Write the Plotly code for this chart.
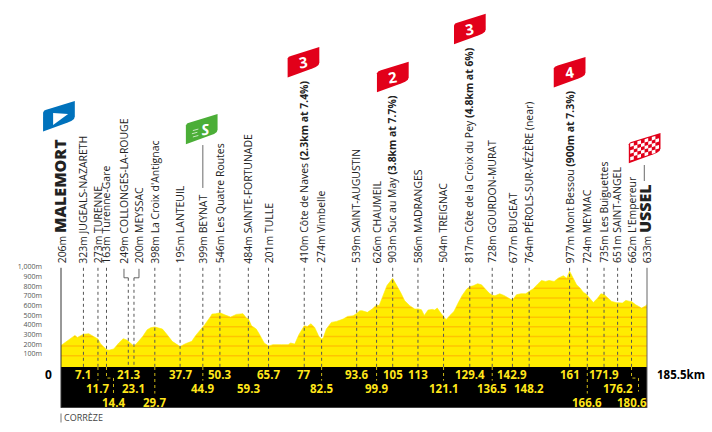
import plotly.graph_objects as go

# Elevation profile of the stage: distance (km) and altitude (m)
profile_km = [0, 1.4, 3.0, 4.4, 5.2, 6.5, 7.1, 8.8, 9.7, 11.7, 12.5, 14.4, 15.2, 16.7, 18.3, 19.7, 20.8, 21.3, 23.1,
              24.1, 25.9, 27.3, 28.4, 29.7, 32.1, 33.6, 35.2, 37.7, 39.4, 41.4, 42.6, 44.9, 45.5, 47.4, 47.8, 48.9,
              50.3, 51.8, 53.7, 55.5, 57.6, 58.7, 59.3, 60.3, 61.8, 62.9, 64.3, 65.7, 67.1, 69.8, 71.9, 72.7, 74.0,
              75.3, 77, 78, 79.1, 80.3, 81.6, 82.5, 83, 84, 85.6, 87.2, 89.3, 90.7, 92.5, 93.6, 94.6, 95.3, 97, 98.5,
              99.9, 100.7, 102, 103.2, 105, 106.2, 107.6, 108.8, 110.4, 112, 113, 114.1, 115, 116.2, 117.5, 118.3,
              119.1, 120.2, 121.1, 121.9, 123.1, 124.4, 125.7, 127, 128.4, 129.4, 130.5, 131.9, 133.1, 134.4, 135.5,
              136.5, 137.4, 138.9, 140.2, 142.1, 142.9, 144.2, 145.6, 147.1, 148.2, 149.5, 150.9, 152.1, 153.4, 154.5,
              156.1, 157.4, 159, 160.1, 161, 162.2, 163.2, 164.3, 165.3, 166.2, 166.6, 168.5, 169.9, 170.9, 171.9,
              173.3, 174.3, 175.9, 176.2, 177.7, 178.8, 180.1, 180.6, 181.9, 183.8, 185.3, 185.5]
profile_m = [206, 242, 280, 311, 290, 318, 323, 328, 311, 273, 225, 163, 158, 170, 232, 277, 263, 249, 200,
             232, 301, 370, 391, 398, 377, 318, 249, 195, 225, 249, 308, 399, 422, 510, 532, 535,
             546, 525, 501, 529, 536, 491, 484, 411, 377, 318, 232, 201, 215, 215, 215, 232, 221,
             318, 410, 404, 432, 394, 301, 274, 284, 377, 446, 456, 480, 508, 515, 539, 567, 567, 550, 584,
             626, 619, 740, 829, 903, 836, 750, 670, 619, 584, 586, 577, 518, 574, 581, 574,
             594, 543, 504, 474, 518, 560, 646, 726, 791, 817, 826, 847, 836, 791, 750,
             728, 722, 743, 726, 690, 677, 733, 743, 743, 764, 795, 843, 881, 871, 881,
             871, 905, 930, 905, 977, 905, 836, 802, 760, 740, 724, 653, 698, 743, 735,
             688, 664, 650, 651, 646, 674, 664, 662, 629, 594, 622, 633]

# Route points between start and finish
stop_km = [7.1, 11.7, 14.4, 21.3, 23.1, 29.7, 37.7, 44.9, 50.3, 59.3, 65.7, 77, 82.5, 93.6, 99.9, 105, 113, 121.1,
           129.4, 136.5, 142.9, 148.2, 161, 166.6, 171.9, 176.2, 180.6]
stop_elev = [323, 273, 163, 249, 200, 398, 195, 399, 546, 484, 201, 410, 274, 539, 626, 903, 586, 504,
             817, 728, 677, 764, 977, 724, 735, 651, 662]
stop_name = ["JUGEALS-NAZARETH", "TURENNE", "Turenne-Gare", "COLLONGES-LA-ROUGE", "MEYSSAC", "La Croix d'Antignac",
             "LANTEUIL", "BEYNAT", "Les Quatre Routes", "SAINTE-FORTUNADE", "TULLE",
             "Côte de Naves <b>(2.3km at 7.4%)</b>", "Vimbelle", "SAINT-AUGUSTIN", "CHAUMEIL",
             "Suc au May <b>(3.8km at 7.7%)</b>", "MADRANGES", "TREIGNAC", "Côte de la Croix du Pey <b>(4.8km at 6%)</b>",
             "GOURDON-MURAT", "BUGEAT", "PÉROLS-SUR-VÉZÈRE (near)", "Mont Bessou <b>(900m at 7.3%)</b>", "MEYMAC",
             "Les Buiguettes", "SAINT-ANGEL", "L'Empereur"]
stop_row = [1, 2, 3, 1, 2, 3, 1, 2, 1, 2, 1, 1, 2, 1, 2, 1, 1, 2, 1, 2, 1, 2, 1, 3, 1, 2, 3]

start_name, start_elev, finish_name, finish_elev, total_km = "MALEMORT", 206, "USSEL", 633, 185.5
elevation_ticks = [100, 200, 300, 400, 500, 600, 700, 800, 900, 1000]
tick_text = ["100m", "200m", "300m", "400m", "500m", "600m", "700m", "800m", "900m", "1,000m"]
climb_flags = [("3", 287.7, 77.3), ("2", 377, 92), ("3", 454, 44), ("4", 553.7, 87.3)]

YELLOW, ORANGE, KM_YELLOW = "#FFEC00", "#FFC400", "#FFE61A"
DASH_GREY, INK = "#555555", "#222222"
FONT = "Open Sans"

# Page geometry in pixels
W, H = 712, 432
LEFT, RIGHT, TOP, BOTTOM = 61.2, 646.9, 269.2, 367.4
BAND_BOTTOM = 408.3
ROW_Y = {1: 375, 2: 388.5, 3: 402.5}


def px(x):
    return (x - LEFT) / (RIGHT - LEFT)


def py(y):
    return (BOTTOM - y) / (BOTTOM - TOP)


def km_px(k):
    return LEFT + k * (RIGHT - LEFT) / total_km


def path(points, close=True):
    return "M" + " L".join(f"{px(x):.5f},{py(y):.5f}" for x, y in points) + (" Z" if close else "")


def line(x0, y0, x1, y1, color=INK, width=1.0, dash="solid"):
    return dict(type="line", xref="paper", yref="paper", x0=px(x0), x1=px(x1), y0=py(y0), y1=py(y1),
                line=dict(color=color, width=width, dash=dash))


def polyline(points, color, width=1.0, dash="3px,3px"):
    return dict(type="path", xref="paper", yref="paper", path=path(points, close=False),
                line=dict(color=color, width=width, dash=dash))


def flag_outline(left, bottom):
    # Slanted pennant with softened top-left and bottom-right corners
    r, t = left + 31.7, bottom - 30.5
    return [(left, bottom), (left, bottom - 19), (left + 1.2, bottom - 20.8), (left + 4, bottom - 21.9), (r, t),
            (r, bottom - 15), (r - 0.8, bottom - 12.5), (r - 3.5, bottom - 10.5), (r - 7, bottom - 9)]


def flag(left, bottom, color):
    return dict(type="path", xref="paper", yref="paper", path=path(flag_outline(left, bottom)),
                fillcolor=color, line=dict(width=0))


def text(x, y, s, size=10.45, color=INK, angle=0, xanchor="center", yanchor="middle", family=FONT):
    return dict(xref="paper", yref="paper", x=px(x), y=py(y), text=s, showarrow=False, textangle=angle,
                xanchor=xanchor, yanchor=yanchor, borderpad=0, borderwidth=0,
                font=dict(family=family, size=size, color=color))


fig = go.Figure()

# Altitude bands come first so the white fill above the ridge line hides their upper parts
grid_x, grid_y = [], []
for level in elevation_ticks:
    grid_x += [0, total_km, None]
    grid_y += [level, level, None]
fig.add_trace(go.Scatter(x=grid_x, y=grid_y, mode="lines", line=dict(color=ORANGE, width=1.5),
                         hoverinfo="skip", showlegend=False))
fig.add_trace(go.Scatter(x=profile_km, y=[1020] * len(profile_km), mode="lines", line=dict(width=0),
                         hoverinfo="skip", showlegend=False))
fig.add_trace(go.Scatter(x=profile_km, y=profile_m, mode="lines", line=dict(color=YELLOW, width=0.6),
                         fill="tonexty", fillcolor="white", showlegend=False))

shapes, annotations = [], []

# Black distance band and the frame around the profile
shapes.append(dict(type="rect", xref="paper", yref="paper", x0=0, x1=1, y0=py(BAND_BOTTOM), y1=0,
                   fillcolor="black", line=dict(width=0)))
shapes.append(line(LEFT, 268, LEFT, BAND_BOTTOM, "#333333", 1))
shapes.append(line(RIGHT, 268, RIGHT, BAND_BOTTOM, "#666666", 1))

# Town and climb labels, their dashed drop lines and the distances in the band
LABEL_BASE = 263.5
nudge = {21.3: -4.3, 23.1: 5.0}
for k, elev, name, row in zip(stop_km, stop_elev, stop_name, stop_row):
    x = km_px(k)
    if k in nudge:
        shapes.append(polyline([(x + nudge[k], 269), (x + nudge[k], 278), (x, 278)], DASH_GREY, 0.9, "solid"))
        shapes.append(polyline([(x, 278), (x, BOTTOM)], DASH_GREY))
    else:
        shapes.append(polyline([(x, 268), (x, BOTTOM)], DASH_GREY))
    annotations.append(text(x + nudge.get(k, 0), LABEL_BASE, f"{elev}m {name}", angle=-90, yanchor="bottom"))
    label_x = x
    if k == 14.4:
        label_x = x + 7
        shapes.append(polyline([(x, BOTTOM), (x, 378.5), (label_x, 378.5), (label_x, 393.5)], KM_YELLOW, 0.8))
    elif k == 180.6:
        shapes.append(polyline([(x, BOTTOM), (x, 378.5), (x + 7, 378.5), (x + 7, 392)], KM_YELLOW, 0.8))
    elif k in (11.7, 44.9, 82.5, 99.9, 121.1, 136.5):
        shapes.append(polyline([(x, BOTTOM), (x, 381)], KM_YELLOW, 0.8))
    elif k in (29.7, 166.6):
        shapes.append(polyline([(x, BOTTOM), (x, 394)], KM_YELLOW, 0.8))
    annotations.append(text(label_x, ROW_Y[row], f"<b>{k:g}</b>", size=11.5, color=KM_YELLOW))

# Start and finish labels
annotations.append(text(km_px(0) - 1.5, LABEL_BASE,
                        f"{start_elev}m <span style='font-size:16px;font-weight:800'>{start_name}</span>",
                        angle=-90, yanchor="bottom"))
annotations.append(text(km_px(total_km) - 2.5, LABEL_BASE,
                        f"{finish_elev}m <span style='font-size:16px;font-weight:800'>{finish_name}</span>",
                        angle=-90, yanchor="bottom"))
shapes.append(line(km_px(44.9), 145, km_px(44.9), 188, "#444444", 0.8))
shapes.append(line(644.2, 165, 644.2, 181, "#444444", 0.8))

# Totals at both ends of the band
annotations.append(text(49, 375, "<b>0</b>", size=12, color="black"))
annotations.append(text(657, 375, f"<b>{total_km}km</b>", size=11.5, color="black", xanchor="left"))

# Department marker below the band
shapes.append(line(LEFT, 414, LEFT, 423, "#555555", 0.8))
annotations.append(text(64.5, 418.3, "CORRÈZE", size=9, color="#444444", xanchor="left"))

# Climb category flags
for cat, left, bottom in climb_flags:
    shapes.append(flag(left, bottom, "#E2001A"))
    annotations.append(text(left + 15.8, bottom - 15.5, f"<b>{cat}</b>", size=15, color="white", angle=-8))

# Start flag with its play arrow
shapes.append(flag(43.3, 131.3, "#0072BC"))
shapes.append(dict(type="path", xref="paper", yref="paper",
                   path=path([(53.3, 113), (68.3, 114), (53.3, 125)]), fillcolor="white", line=dict(width=0)))

# Sprint flag
shapes.append(flag(186, 144.3, "#4BAE37"))
for dy, x0 in ((0, 193), (3.2, 192), (6.4, 193)):
    shapes.append(line(x0, 130.5 + dy, x0 + 5.5, 129 + dy, "white", 0.7))
annotations.append(text(206, 128.8, "<b><i>S</i></b>", size=15, color="white", angle=-8))

# Chequered finish flag
CHECK_L, CHECK_B = 628.7, 163.3
shapes.append(flag(CHECK_L, CHECK_B, "#E2001A"))
cols, rows, cell_w, cell_h, slope = 8, 5, 3.6, 3.4, 9.6 / 31.7
for c in range(cols):
    for r in range(rows):
        if (c + r) % 2 == 0:
            x0 = CHECK_L + 1.4 + c * cell_w
            base = CHECK_B - 2.4 - r * cell_h
            corners = [(x0, base - slope * (x0 - CHECK_L)),
                       (x0 + cell_w, base - slope * (x0 + cell_w - CHECK_L)),
                       (x0 + cell_w, base - cell_h - slope * (x0 + cell_w - CHECK_L)),
                       (x0, base - cell_h - slope * (x0 - CHECK_L))]
            shapes.append(dict(type="path", xref="paper", yref="paper", path=path(corners),
                               fillcolor="white", line=dict(width=0)))

fig.update_layout(
    width=W, height=H, autosize=False,
    margin=dict(l=LEFT, r=W - RIGHT, t=TOP, b=H - BOTTOM, pad=0),
    paper_bgcolor="white", plot_bgcolor=YELLOW, showlegend=False,
    shapes=shapes, annotations=annotations,
    xaxis=dict(range=[0, total_km], visible=False),
    yaxis=dict(range=[-17, 1000], tickvals=elevation_ticks, ticktext=tick_text, showgrid=False,
               zeroline=False, showline=False, ticks="",
               ticklabelstandoff=18, ticklabelshift=-2,
               tickfont=dict(family=FONT, size=7, color="#555555")),
)

fig.write_html("out.html")
